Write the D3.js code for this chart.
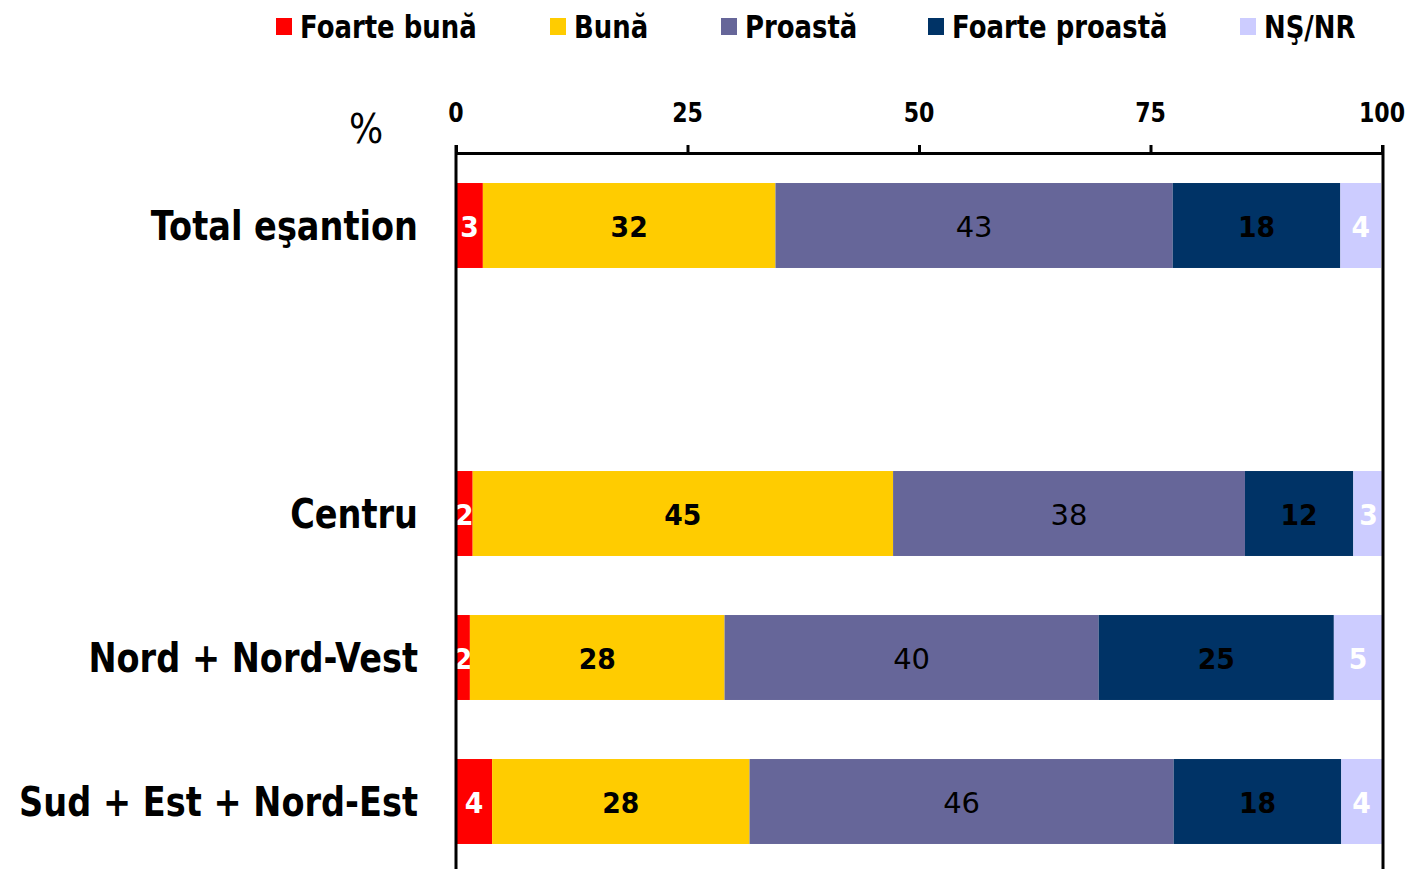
<!DOCTYPE html>
<html><head><meta charset="utf-8">
<script src="https://cdn.jsdelivr.net/npm/d3@7"></script>
<style>body{margin:0;background:#fff}svg{display:block}</style>
</head><body>
<script>
const categories = ["Total eşantion", " ", "Centru", "Nord + Nord-Vest", "Sud + Est + Nord-Est"];
const seriesNames = ["Foarte bună", "Bună", "Proastă", "Foarte proastă", "NŞ/NR"];
const foarteBuna   = [2.9, null, 1.8, 1.5, 3.9];
const buna         = [31.6, null, 45.4, 27.5, 27.8];
const proasta      = [42.9, null, 38.0, 40.4, 45.8];
const foarteProasta= [18.1, null, 11.7, 25.4, 18.1];
const nsnr         = [4.4, null, 3.3, 5.2, 4.4];
const tickValues = [0, 25, 50, 75, 100];
const colors = ["#FF0000", "#FFCC00", "#666699", "#003366", "#CCCCFF"];
const labelColors = ["#fff", "#000", "#000", "#000", "#fff"];
const labelWeights = ["bold", "bold", "normal", "bold", "bold"];

const series = [foarteBuna, buna, proasta, foarteProasta, nsnr];
const W = 1410, H = 869;
const svg = d3.select("body").append("svg").attr("width", W).attr("height", H);
const FONT = "DejaVu Sans, Verdana, sans-serif";

const x = d3.scaleLinear().domain([0, 100]).range([456, 1382]);
const y = d3.scaleBand().domain(categories).range([153.5, 873.5]).paddingInner(0.41).paddingOuter(0.205);

function txt(g, s, px, py, opts) {
  return g.append("text")
    .attr("transform", `translate(${px},${py}) scale(${opts.sx || 1},1)`)
    .attr("font-family", FONT)
    .attr("font-size", opts.size)
    .attr("font-weight", opts.weight || "normal")
    .attr("fill", opts.fill || "#000")
    .attr("text-anchor", opts.anchor || "start")
    .text(s);
}

// bars
const rows = categories.map((c, i) => ({ c, vals: series.map(s => s[i]) })).filter(r => r.vals[0] !== null);
const gBars = svg.append("g");
rows.forEach(r => {
  let acc = 0;
  r.vals.forEach((v, k) => {
    const x0 = acc, x1 = acc + v; acc = x1;
    gBars.append("rect")
      .attr("x", x(x0)).attr("y", y(r.c))
      .attr("width", x(x1) - x(x0)).attr("height", y.bandwidth())
      .attr("fill", colors[k]);
    txt(gBars, Math.round(v), (x(x0) + x(x1)) / 2, y(r.c) + y.bandwidth() / 2 + 11,
      { size: 29, weight: labelWeights[k], fill: labelColors[k], anchor: "middle", sx: labelWeights[k] === "bold" ? 0.92 : 1 });
  });
  txt(svg, r.c, 418, y(r.c) + y.bandwidth() / 2 + 14, { size: 40, weight: "bold", anchor: "end", sx: 0.84 });
});

// axis
const axis = d3.axisTop(x).tickValues(tickValues).tickSize(8).tickSizeOuter(0).tickFormat("");
const gAx = svg.append("g").attr("transform", "translate(0,153)").call(axis);
gAx.select(".domain").attr("stroke", "#000").attr("stroke-width", 3);
gAx.selectAll(".tick line").attr("stroke", "#000").attr("stroke-width", 3);
tickValues.forEach(v => txt(svg, v, x(v), 122, { size: 26, weight: "bold", anchor: "middle", sx: 0.85 }));
// vertical lines
svg.append("line").attr("x1", x(0)).attr("x2", x(0)).attr("y1", 145).attr("y2", H).attr("stroke", "#000").attr("stroke-width", 3);
svg.append("line").attr("x1", x(100)+1).attr("x2", x(100)+1).attr("y1", 145).attr("y2", H).attr("stroke", "#000").attr("stroke-width", 3);

txt(svg, "%", 366, 143, { size: 40, anchor: "middle", sx: 0.9 });

// legend
const legX = [276, 550, 721, 928, 1240];
seriesNames.forEach((n, k) => {
  svg.append("rect").attr("x", legX[k]).attr("y", 18).attr("width", 16).attr("height", 17).attr("fill", colors[k]);
  txt(svg, n, legX[k] + 24, 38, { size: 32, weight: "bold", sx: 0.81 });
});
</script>
</body></html>
